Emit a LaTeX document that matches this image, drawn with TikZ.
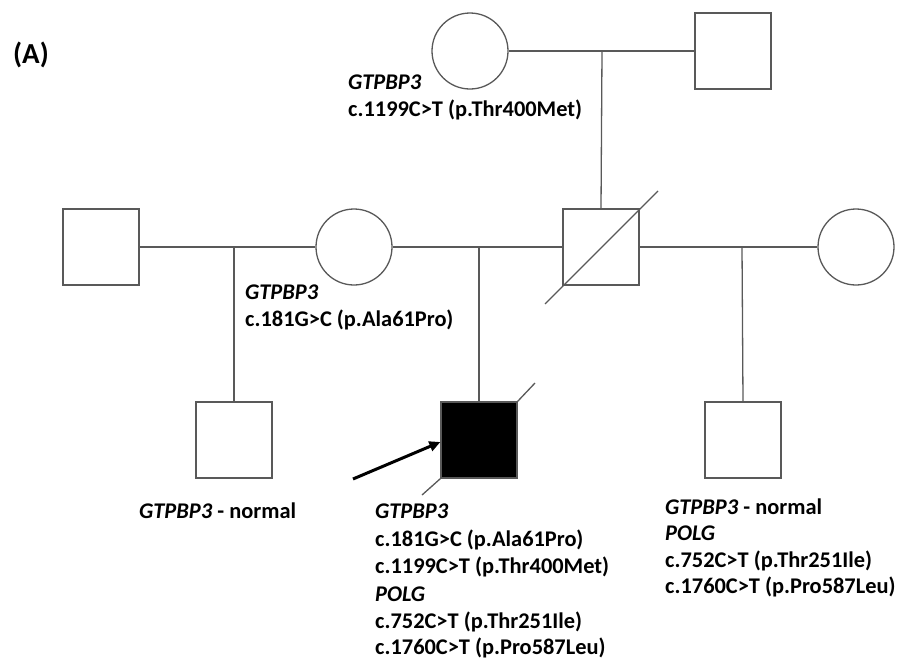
\documentclass[tikz,border=0pt]{standalone}
\usepackage{fontspec}
\setmainfont{Carlito}
\usetikzlibrary{arrows.meta}
\begin{document}
\begin{tikzpicture}[x=1pt,y=-1pt,
  ln/.style={draw=black!65, line width=1.3pt},
  male/.style={ln, rectangle, minimum size=76pt, inner sep=0pt, fill=white},
  female/.style={ln, circle, minimum size=76pt, inner sep=0pt, fill=white},
  affected/.style={male, fill=black},
  txt/.style={anchor=base west, inner sep=0pt, font=\fontsize{22.4}{27}\selectfont\bfseries},
  gene/.style={txt, font=\fontsize{22.4}{27}\selectfont\bfseries\itshape}]
\useasboundingbox (0,0) rectangle (899,662);
% generation I
\node[female] (gm) at (470,51) {};
\node[male] (gf) at (733,51) {};
% generation II
\node[male] (m1) at (101,247) {};
\node[female] (w1) at (354,247) {};
\node[male] (fa) at (601,247) {};
\node[female] (w2) at (856,247) {};
% generation III
\node[male] (s1) at (234,440) {};
\node[affected] (pb) at (479,440) {};
\node[male] (s2) at (743,440) {};
% junctions
\coordinate (j0) at (602,52);
\coordinate (j1) at (234,247);
\coordinate (j2) at (479,247);
\coordinate (j3) at (742,247);
% connectors
\draw[ln] (gm.east) -- (gf.west);
\draw[ln] (j0) -- (fa.north);
\draw[ln] (m1.east) -- (w1.west);
\draw[ln] (j1) -- (s1.north);
\draw[ln] (w1.east) -- (fa.west);
\draw[ln] (j2) -- (pb.north);
\draw[ln] (fa.east) -- (w2.west);
\draw[ln] (j3) -- (s2.north);
% deceased marks
\coordinate (d1a) at (545,304);
\coordinate (d1b) at (658,191);
\draw[ln] (d1a) -- (d1b);
\coordinate (d2a) at (422,495);
\coordinate (d2b) at (535,383);
\draw[ln] (d2a) -- (pb.south west);
\draw[ln] (pb.north east) -- (d2b);
% proband arrow
\coordinate (ar) at (353,479);
\draw[line width=3pt, -{Triangle[length=11pt,width=10pt]}] (ar) -- (pb.west |- 0,442);
% labels
\node[anchor=base west, inner sep=0pt, font=\fontsize{29}{34}\selectfont\bfseries] (lab) at (13,63) {(A)};
\node[gene] (t1) at (348,89) {GTPBP3};
\node[txt] (t2) at (348,116) {c.1199C>T (p.Thr400Met)};
\node[gene] (u1) at (245,299) {GTPBP3};
\node[txt] (u2) at (245,326) {c.181G>C (p.Ala61Pro)};
\node[txt] (v1) at (139,518) {\textit{GTPBP3} - normal};
\node[gene] (p1) at (375,518) {GTPBP3};
\node[txt] (p2) at (375,546) {c.181G>C (p.Ala61Pro)};
\node[txt] (p3) at (375,573) {c.1199C>T (p.Thr400Met)};
\node[gene] (p4) at (375,601) {POLG};
\node[txt] (p5) at (375,628) {c.752C>T (p.Thr251Ile)};
\node[txt] (p6) at (375,654) {c.1760C>T (p.Pro587Leu)};
\node[txt] (r1) at (665,514) {\textit{GTPBP3} - normal};
\node[gene] (r2) at (665,540) {POLG};
\node[txt] (r3) at (665,567) {c.752C>T (p.Thr251Ile)};
\node[txt] (r4) at (665,593) {c.1760C>T (p.Pro587Leu)};
\end{tikzpicture}
\end{document}
